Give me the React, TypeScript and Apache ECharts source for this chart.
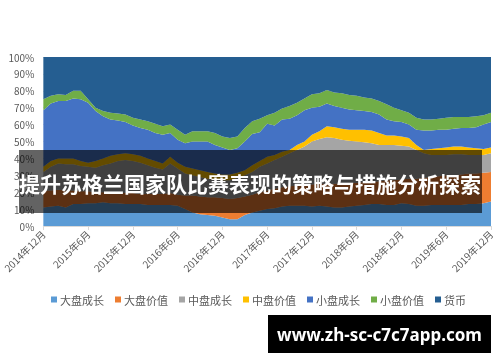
import React, { useEffect, useRef } from "react";
import * as echarts from "echarts";

const seriesNames = ["大盘成长", "大盘价值", "中盘成长", "中盘价值", "小盘成长", "小盘价值", "货币"];
const colors = ["#5B9BD5", "#ED7D31", "#A5A5A5", "#FFC000", "#4472C4", "#70AD47", "#255E91"];

const months: string[] = [];
for (let y = 2014, m = 12; y < 2020; ) {
  months.push(`${y}年${m}月`);
  if (y === 2019 && m === 12) break;
  m++;
  if (m > 12) { m = 1; y++; }
}

const largeGrowth = [11, 11.5, 12, 11, 13, 13, 13.5, 13.5, 14, 13.5, 13.5, 13, 13, 13, 12.5, 12.5, 12.5, 12.5, 12, 10, 8, 7, 6.5, 6, 5, 4, 4, 6.5, 8, 9, 10, 10.5, 11.5, 12, 12, 12, 11.5, 12, 11.5, 11, 11, 11.5, 12, 12.5, 13, 13, 12.5, 12.5, 13.5, 13, 12, 12, 12.5, 12.5, 12.5, 12.5, 12.5, 13, 13, 13.5, 14.5];
const largeValue = [10, 9.5, 9.5, 10, 8, 7.5, 7, 6.5, 6, 6.5, 6, 6.5, 6.5, 6, 6.5, 6.5, 6.5, 7, 6.5, 8, 10, 10.5, 10.5, 11, 11.5, 12, 12.5, 11, 10.5, 11, 11, 11.5, 11.5, 11.5, 12, 12, 13, 13, 13.5, 14, 14, 14, 13.5, 13.5, 13, 13.5, 14.5, 14.5, 14, 15, 16, 16.5, 16.5, 17, 17.5, 17.5, 18, 18, 18, 18, 17.5];
const midGrowth = [11, 14, 15.5, 15.5, 15.5, 15, 14.5, 14.5, 16, 17, 19, 19.5, 19, 18.5, 17, 15.5, 14.5, 17.5, 15.5, 13, 12, 11.5, 11, 10.5, 10.5, 11, 12, 12.5, 13.5, 15, 16, 17, 18, 19.5, 21, 23, 25.5, 26.5, 27.5, 27, 26, 25, 24.5, 23.5, 23, 21.5, 21, 21, 20, 19, 17, 14.5, 13, 12.5, 12, 12.5, 12, 11, 11, 10.5, 11];
const midValue = [3, 3.5, 3, 3.5, 3.5, 3, 2.5, 4, 4, 4.5, 4, 4, 4, 4, 4, 4, 3.5, 4, 3.5, 4, 4, 4, 4, 3.5, 3.5, 3.5, 3, 3, 4, 3.5, 4, 3, 3, 2, 3, 3, 4, 4.5, 6.5, 6.5, 6.5, 6.5, 7, 7.5, 7.5, 7, 5.5, 5.5, 5.5, 5, 3, 2, 3.5, 4, 4.5, 4.5, 4.5, 4.5, 4, 3.5, 3.5];
const smallGrowth = [33.5, 34, 34, 34, 35.5, 36.5, 35.5, 29.5, 25, 21.5, 20, 18.5, 17, 16.5, 17, 16.5, 17, 14, 13.5, 14, 16, 17, 18, 17, 16, 14.5, 14.5, 17, 18.5, 17, 19.5, 17.5, 19, 18.5, 17.5, 18.5, 16, 14.5, 13.5, 12.5, 12.5, 12, 11.5, 11, 11, 11, 9.5, 8.5, 8.5, 8, 9, 11.5, 11, 11, 10.5, 10.5, 11, 11.5, 12.5, 14.5, 15];
const smallValue = [6.5, 4.5, 4, 3.5, 4.5, 5, 2, 2, 3, 4, 4, 4.5, 4.5, 5, 5, 5.5, 5, 5, 6, 5, 6, 6, 6, 7, 6.5, 7, 7, 8, 7.5, 8, 5, 7.5, 6.5, 7.5, 7.5, 7, 8, 8, 8, 8, 8.5, 8.5, 8.5, 8, 8, 8, 9, 8, 7, 7, 7, 6.5, 6.5, 6.5, 7, 7, 6.5, 6.5, 6.5, 5.5, 5.5];
const money = [25, 23, 22, 22.5, 20, 20, 25, 30, 32, 33, 33.5, 34, 36, 37, 38, 39.5, 41, 40, 43, 46, 44, 44, 44, 45, 47, 48, 47, 42, 38, 36.5, 34.5, 33, 30.5, 29, 27, 24.5, 22, 21.5, 19.5, 21, 21.5, 22.5, 23, 24, 24.5, 26, 28, 30, 31.5, 33, 36, 37, 37, 36.5, 36, 35.5, 35.5, 35.5, 35, 34.5, 33];

const seriesData = [largeGrowth, largeValue, midGrowth, midValue, smallGrowth, smallValue, money];

const title = "提升苏格兰国家队比赛表现的策略与措施分析探索";
const watermark = "www.zh-sc-c7c7app.com";

export default function App() {
  const ref = useRef<HTMLDivElement>(null);
  useEffect(() => {
    if (!ref.current) return;
    const chart = echarts.init(ref.current, undefined, { renderer: "svg" });
    chart.setOption({
      animation: false,
      color: colors,
      textStyle: { fontFamily: "'Noto Sans CJK SC', 'Noto Sans', sans-serif" },
      grid: { left: 43, right: 9, top: 57, bottom: 136, containLabel: false },
      legend: {
        data: seriesNames,
        bottom: 52,
        left: 46,
        icon: "rect",
        itemWidth: 6,
        itemHeight: 6,
        itemGap: 11,
        textStyle: { color: "#595959", fontSize: 11, padding: [0, 0, 0, -2] },
      },
      xAxis: {
        type: "category",
        data: months,
        boundaryGap: false,
        axisLine: { lineStyle: { color: "#d9d9d9" } },
        axisTick: { interval: 5, length: 4, lineStyle: { color: "#d9d9d9" } },
        axisLabel: { interval: 5, rotate: 45, color: "#595959", fontSize: 10, margin: 6 },
      },
      yAxis: {
        type: "value",
        min: 0,
        max: 100,
        interval: 10,
        axisLine: { show: false },
        axisTick: { show: false },
        splitLine: { lineStyle: { color: "#d9d9d9" } },
        axisLabel: { formatter: "{value}%", color: "#595959", fontSize: 10, margin: 9 },
      },
      series: seriesNames.map((name, i) => ({
        name,
        type: "line",
        stack: "total",
        data: seriesData[i],
        symbol: "none",
        lineStyle: { width: 0 },
        areaStyle: { opacity: 1, color: colors[i] },
        itemStyle: { color: colors[i] },
      })),
      graphic: [
        {
          type: "rect",
          z: 100,
          shape: { x: 19, y: 150, width: 463, height: 63 },
          style: { fill: "rgba(0,0,0,0.61)" },
        },
        {
          type: "text",
          z: 101,
          x: 250,
          y: 183,
          style: {
            text: title,
            fill: "#fff",
            font: "bold 21px 'Noto Sans CJK SC', sans-serif",
            align: "center",
            verticalAlign: "middle",
          },
        },
        {
          type: "rect",
          z: 100,
          shape: { x: 268, y: 315, width: 223, height: 38 },
          style: { fill: "#000" },
        },
        {
          type: "text",
          z: 101,
          x: 379.5,
          y: 334,
          style: {
            text: watermark,
            fill: "#fff",
            font: "bold 17px 'Noto Sans', sans-serif",
            align: "center",
            verticalAlign: "middle",
          },
        },
      ],
    });
    return () => chart.dispose();
  }, []);
  return <div ref={ref} style={{ position: "fixed", left: 0, top: 0, width: 500, height: 362 }} />;
}
